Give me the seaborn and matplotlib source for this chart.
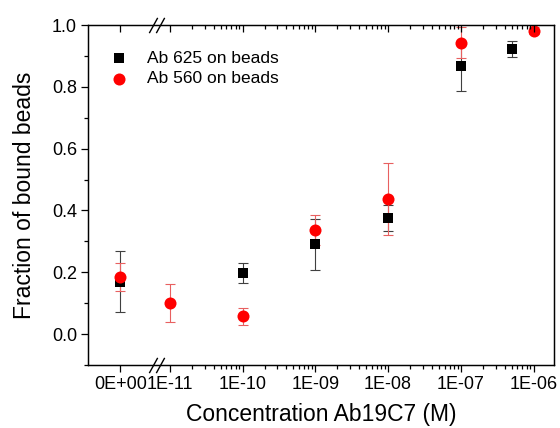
import numpy as np
import pandas as pd
import matplotlib
matplotlib.use('Agg')
import matplotlib.pyplot as plt
import matplotlib.transforms as mtransforms
import seaborn as sns

# Ab 625 on beads (black squares)
conc_625 = [0, 1e-10, 1e-9, 1e-8, 1e-7, 5e-7]
frac_625 = [0.170, 0.197, 0.290, 0.376, 0.866, 0.922]
err_625 = [0.100, 0.033, 0.083, 0.041, 0.079, 0.027]

# Ab 560 on beads (red circles)
conc_560 = [0, 1e-11, 1e-10, 1e-9, 1e-8, 1e-7, 1e-6]
frac_560 = [0.185, 0.100, 0.057, 0.337, 0.437, 0.942, 0.982]
err_560 = [0.044, 0.062, 0.028, 0.049, 0.118, 0.050, 0.010]

tick_conc = [0, 1e-11, 1e-10, 1e-9, 1e-8, 1e-7, 1e-6]
tick_labels = ['0E+00', '1E-11', '1E-10', '1E-09', '1E-08', '1E-07', '1E-06']

# broken log axis: 0 M is put just left of the break
ZERO_POS = -11.68
BREAK_POS = -11.18


def to_pos(c):
    return np.log10(c) if c > 0 else ZERO_POS


df = pd.concat([
    pd.DataFrame({'Antibody': 'Ab 625 on beads', 'conc': conc_625, 'frac': frac_625, 'err': err_625}),
    pd.DataFrame({'Antibody': 'Ab 560 on beads', 'conc': conc_560, 'frac': frac_560, 'err': err_560}),
], ignore_index=True)
df['pos'] = df['conc'].apply(to_pos)

sns.set_style('ticks')
plt.rcParams['font.family'] = ['Liberation Sans', 'DejaVu Sans']
plt.rcParams.update({'text.color': 'black', 'axes.labelcolor': 'black',
                     'xtick.color': 'black', 'ytick.color': 'black'})

fig = plt.figure(figsize=(5.6, 4.28), dpi=100)
ax = fig.add_axes([88/560, 1-365/428, (554-88)/560, (365-25)/428])

styles = {'Ab 625 on beads': dict(marker='s', color='black', s=50, ecol='#404040'),
          'Ab 560 on beads': dict(marker='o', color='#ff0000', s=75, ecol='#e86060')}

for name in ['Ab 625 on beads', 'Ab 560 on beads']:
    sub = df[df['Antibody'] == name]
    st = styles[name]
    ax.errorbar(sub['pos'], sub['frac'], yerr=sub['err'], fmt='none', ecolor=st['ecol'],
                elinewidth=0.8, capsize=3.5, capthick=0.8, zorder=2)
    sns.scatterplot(data=sub, x='pos', y='frac', marker=st['marker'], color=st['color'],
                    s=st['s'], linewidth=0, label=name, ax=ax, zorder=3)

ax.set_xlim(-12.125, -5.72)
ax.set_ylim(-0.1, 1.0)

major_pos = [to_pos(c) for c in tick_conc]
minor_pos = [d + np.log10(k) for d in range(-11, -6) for k in range(2, 10)]

ax.set_xticks(major_pos)
ax.set_xticklabels(tick_labels)
ax.set_xticks(minor_pos, minor=True)
ax.set_yticks(np.arange(0, 1.01, 0.2))
ax.set_yticks(np.arange(-0.1, 1.0, 0.2), minor=True)
ax.yaxis.set_major_formatter(matplotlib.ticker.FormatStrFormatter('%.1f'))

ax.tick_params(axis='both', which='major', direction='out', length=5, width=0.9, labelsize=13, pad=3)
ax.tick_params(axis='both', which='minor', direction='out', length=3, width=0.9)

# mirrored ticks on the top, pointing in
top = ax.twiny()
top.set_xlim(ax.get_xlim())
top.set_xticks(major_pos)
top.set_xticks(minor_pos, minor=True)
top.tick_params(axis='x', which='major', direction='in', length=5, width=0.9, labeltop=False)
top.tick_params(axis='x', which='minor', direction='in', length=3, width=0.9)

for a in (ax, top):
    for sp in a.spines.values():
        sp.set_linewidth(0.9)
        sp.set_color('black')

# break marks (two slashes) on bottom and top axis
trans = mtransforms.blended_transform_factory(ax.transData, ax.transAxes)
slash = [(-0.55, -1), (0.55, 1)]
for yy in (0, 1):
    for dx in (-0.045, 0.045):
        ax.plot([BREAK_POS + dx], [yy], marker=slash, markersize=11, color='black',
                markeredgewidth=1.0, transform=trans, clip_on=False, zorder=5)

ax.set_xlabel('Concentration Ab19C7 (M)', fontsize=16.5, labelpad=7)
ax.set_ylabel('Fraction of bound beads', fontsize=16.5, labelpad=11)

leg = ax.legend(frameon=False, loc='upper left', bbox_to_anchor=(0.015, 0.945),
                fontsize=12.5, handletextpad=0.6, labelspacing=0.3, borderaxespad=0)

fig.savefig('out.png', dpi=100)
